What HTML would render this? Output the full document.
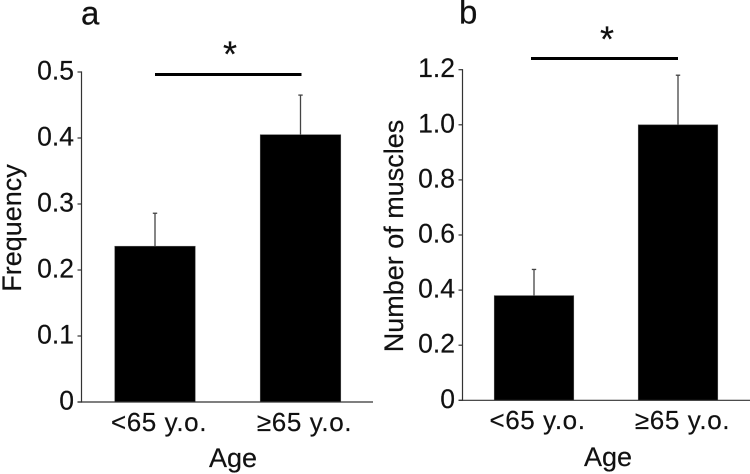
<!DOCTYPE html>
<html>
<head>
<meta charset="utf-8">
<style>
html,body{margin:0;padding:0;background:#fff;width:750px;height:474px;overflow:hidden}
svg{display:block;filter:blur(0.35px)}
text{font-family:"Liberation Sans",sans-serif;fill:#111;stroke:#111;stroke-width:0.2px}
</style>
</head>
<body>
<svg id="chart" width="750" height="474" viewBox="0 0 750 474" xmlns="http://www.w3.org/2000/svg"></svg>
<script>
const categories = ['<65 y.o.', '\u226565 y.o.'];
const frequencyValues = [0.236, 0.405];
const frequencyErrors = [0.05, 0.06];
const frequencyTicks = [0, 0.1, 0.2, 0.3, 0.4, 0.5];
const frequencyTickLabels = ['0', '0.1', '0.2', '0.3', '0.4', '0.5'];
const muscleValues = [0.38, 1.0];
const muscleErrors = [0.095, 0.18];
const muscleTicks = [0, 0.2, 0.4, 0.6, 0.8, 1.0, 1.2];
const muscleTickLabels = ['0', '0.2', '0.4', '0.6', '0.8', '1.0', '1.2'];

const svg = document.getElementById('chart');
const NS = 'http://www.w3.org/2000/svg';

function make(tag, attrs, text) {
  const el = document.createElementNS(NS, tag);
  for (const k in attrs) el.setAttribute(k, attrs[k]);
  if (text !== undefined) el.textContent = text;
  svg.appendChild(el);
  return el;
}

function drawPanel(p) {
  const y = v => p.y0 - p.scale * v;
  const x = i => p.catX[i];
  const axisColor = '#333';

  // bars and error bars
  p.values.forEach((v, i) => {
    const err = make('line', {x1: x(i), x2: x(i), y1: y(v), y2: y(v + p.errors[i]), stroke: '#444', 'stroke-width': 1.3});
    
    
    const cap = make('line', {x1: x(i) - 2.2, x2: x(i) + 2.2, y1: y(v + p.errors[i]), y2: y(v + p.errors[i]), stroke: '#444', 'stroke-width': 1.3});
    
    
    const bar = make('rect', {x: x(i) - p.barW / 2, y: y(v), width: p.barW, height: p.y0 - y(v), fill: '#000', stroke: '#555', 'stroke-width': 0.6});
    
    
  });

  // y axis
  const yAxis = make('line', {x1: p.axisX, x2: p.axisX, y1: y(p.ticks[p.ticks.length - 1]) - 0.6, y2: p.y0 + 0.6, stroke: axisColor, 'stroke-width': 1.2});
  
  

  // x axis
  const xAxis = make('line', {x1: p.axisX - 4, x2: p.axisEnd, y1: p.y0, y2: p.y0, stroke: axisColor, 'stroke-width': 1.2});
  
  

  // ticks
  p.ticks.forEach((t, i) => {
    const tick = make('line', {x1: p.axisX - 4, x2: p.axisX, y1: y(t), y2: y(t), stroke: axisColor, 'stroke-width': 1.2});
    
    
    const label = make('text', {x: p.axisX - 7.5, y: y(t) + 7.5, 'text-anchor': 'end', 'font-size': 26.5}, p.tickLabels[i]);
    
    
  });

  // category labels
  categories.forEach((c, i) => {
    const label = make('text', {x: p.catLabelX[i], y: p.catY, 'text-anchor': 'middle', 'font-size': 26, 'letter-spacing': 0.6}, c);
    
    
  });

  // axis titles
  const xt = make('text', {x: p.xTitleX, y: p.xTitleY, 'text-anchor': 'middle', 'font-size': 27}, 'Age');
  
  
  const yt = make('text', {transform: 'translate(' + p.yTitleX + ' ' + p.yTitleY + ') rotate(-90)', 'text-anchor': 'middle', 'font-size': 27}, p.yTitle);
  
  

  // significance
  const sig = make('line', {x1: p.sigX1, x2: p.sigX2, y1: p.sigY, y2: p.sigY, stroke: '#000', 'stroke-width': 3});
  
  
  const star = make('text', {x: p.starX, y: p.starY, 'text-anchor': 'middle', 'font-size': 36}, '*');
  
  

  // panel letter
  const letter = make('text', {x: p.letterX, y: p.letterY, 'font-size': 33}, p.letter);
  
  
}

drawPanel({
  id: 'panel-a', letter: 'a', letterX: 81, letterY: 24.5,
  values: frequencyValues, errors: frequencyErrors, ticks: frequencyTicks, tickLabels: frequencyTickLabels,
  y0: 402, scale: 660, axisX: 81.5, axisEnd: 373, catX: [155, 300.5], barW: 80.5,
  catLabelX: [159, 304.5], catY: 431, xTitleX: 233, xTitleY: 467,
  yTitle: 'Frequency', yTitleX: 21, yTitleY: 228,
  sigX1: 155, sigX2: 301.5, sigY: 74.5, starX: 230, starY: 66.5
});

drawPanel({
  id: 'panel-b', letter: 'b', letterX: 459, letterY: 23.5,
  values: muscleValues, errors: muscleErrors, ticks: muscleTicks, tickLabels: muscleTickLabels,
  y0: 400.3, scale: 275.5, axisX: 462.5, axisEnd: 750, catX: [534, 678], barW: 79.5,
  catLabelX: [537.5, 682.5], catY: 429, xTitleX: 608, xTitleY: 466,
  yTitle: 'Number of muscles', yTitleX: 403, yTitleY: 236,
  sigX1: 531, sigX2: 678, sigY: 58.5, starX: 607, starY: 51.5
});
</script>
</body>
</html>
